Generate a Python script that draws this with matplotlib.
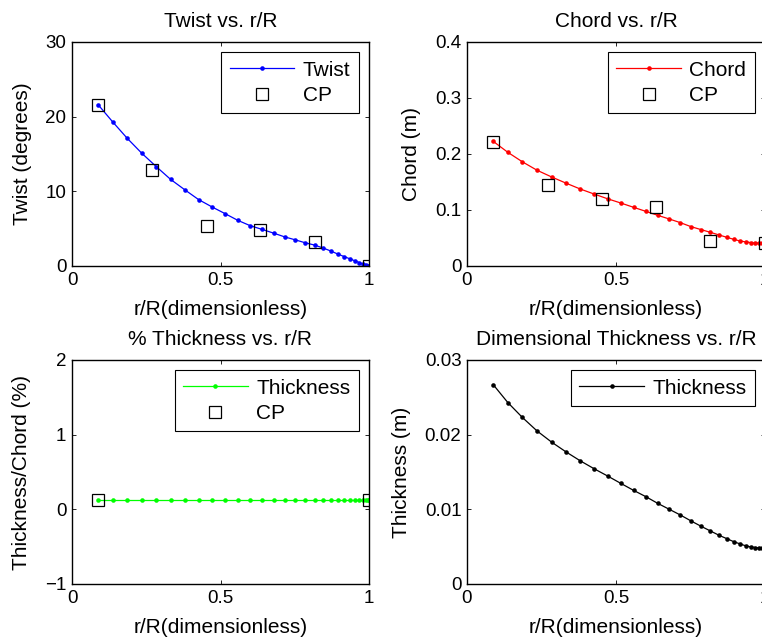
import matplotlib
matplotlib.use("Agg")
import matplotlib.pyplot as plt

plt.rcParams['font.family'] = ['Liberation Sans', 'DejaVu Sans']
plt.rcParams['font.size'] = 13.5
plt.rcParams['axes.unicode_minus'] = True

# r/R stations
r = [0.088, 0.137, 0.186, 0.235, 0.284, 0.332, 0.380, 0.426, 0.472, 0.516,
     0.559, 0.600, 0.640, 0.679, 0.716, 0.752, 0.786, 0.817, 0.846, 0.872,
     0.895, 0.917, 0.937, 0.954, 0.968, 0.981, 0.990, 0.996, 1.0]
twist = [21.6, 19.3, 17.1, 15.1, 13.3, 11.6, 10.2, 8.9, 7.9, 7.0,
         6.1, 5.4, 4.9, 4.4, 3.9, 3.5, 3.1, 2.8, 2.4, 2.0,
         1.6, 1.25, 0.94, 0.67, 0.45, 0.27, 0.13, 0.04, 0.0]
chord = [0.2226, 0.203, 0.186, 0.171, 0.159, 0.148, 0.1375, 0.1286, 0.120, 0.1125,
         0.1048, 0.0976, 0.0905, 0.0839, 0.0774, 0.0702, 0.0649, 0.0601, 0.0554, 0.0512,
         0.0476, 0.0446, 0.0429, 0.0417, 0.0411, 0.0406, 0.0404, 0.0403, 0.0402]
pct_thick = [0.12] * 29
thick = [0.0267, 0.0243, 0.0223, 0.0205, 0.0190, 0.0177, 0.0165, 0.01545, 0.01446, 0.01348,
         0.01254, 0.0117, 0.0108, 0.0100, 0.00924, 0.00844, 0.00772, 0.0071, 0.00652, 0.00607,
         0.00567, 0.00536, 0.00509, 0.00496, 0.00488, 0.00484, 0.00482, 0.00481, 0.0048]

# control points
cp_twist_x = [0.088, 0.27, 0.454, 0.634, 0.818, 1.0]
cp_twist_y = [21.6, 12.9, 5.4, 4.8, 3.2, 0.0]
cp_chord_x = [0.088, 0.271, 0.453, 0.635, 0.814, 1.0]
cp_chord_y = [0.222, 0.1446, 0.119, 0.1048, 0.044, 0.0405]
cp_thick_x = [0.088, 1.0]
cp_thick_y = [0.12, 0.12]

fig = plt.figure(figsize=(7.62, 6.41), dpi=100)
W, H = 762, 641
def pos(x0, y_bottom, w, h):
    return [x0 / W, (H - y_bottom) / H, w / W, h / H]

ax1 = fig.add_axes(pos(72, 266, 297, 224))
ax2 = fig.add_axes(pos(467, 266, 298, 224))
ax3 = fig.add_axes(pos(72, 584, 297, 224))
ax4 = fig.add_axes(pos(467, 584, 298, 224))

LBL = 15

def style(ax):
    ax.tick_params(direction='in', top=True, right=True, length=3, width=0.6, pad=4,
                   labelsize=13.5)
    for s in ax.spines.values():
        s.set_linewidth(1.0)
    ax.set_xlim(0, 1)
    ax.set_xticks([0, 0.5, 1])
    ax.set_xticklabels(['0', '0.5', '1'])
    ax.set_xlabel('r/R(dimensionless)', fontsize=LBL, labelpad=8)

def leg(ax):
    l = ax.legend(loc='upper right', fancybox=False, edgecolor='black', framealpha=1,
                  handlelength=3.1, borderaxespad=0.5, labelspacing=0.3,
                  borderpad=0.4, handletextpad=0.4, fontsize=LBL)
    l.get_frame().set_linewidth(0.8)

cp_kw = dict(linestyle='none', marker='s', markersize=8, markerfacecolor='none',
             markeredgecolor='black', markeredgewidth=0.9, label='CP')
ln_kw = dict(marker='o', markersize=3.3, markeredgewidth=0, linewidth=0.9)

ax1.plot(r, twist, color='blue', label='Twist', **ln_kw)
ax1.plot(cp_twist_x, cp_twist_y, **cp_kw)
ax1.set_ylim(0, 30)
ax1.set_yticks([0, 10, 20, 30])
ax1.set_ylabel('Twist (degrees)', fontsize=LBL, labelpad=10)
ax1.set_title('Twist vs. r/R', fontsize=LBL, pad=11)
style(ax1)
leg(ax1)

ax2.plot(r, chord, color='red', label='Chord', **ln_kw)
ax2.plot(cp_chord_x, cp_chord_y, **cp_kw)
ax2.set_ylim(0, 0.4)
ax2.set_yticks([0, 0.1, 0.2, 0.3, 0.4])
ax2.set_yticklabels(['0', '0.1', '0.2', '0.3', '0.4'])
ax2.set_ylabel('Chord (m)', fontsize=LBL, labelpad=10)
ax2.set_title('Chord vs. r/R', fontsize=LBL, pad=11)
style(ax2)
leg(ax2)

ax3.plot(r, pct_thick, color='#00ff00', label='Thickness', **ln_kw)
ax3.plot(cp_thick_x, cp_thick_y, **cp_kw)
ax3.set_ylim(-1, 2)
ax3.set_yticks([-1, 0, 1, 2])
ax3.set_ylabel('Thickness/Chord (%)', fontsize=LBL, labelpad=10)
ax3.set_title('% Thickness vs. r/R', fontsize=LBL, pad=11)
style(ax3)
leg(ax3)

ax4.plot(r, thick, color='black', label='Thickness', **ln_kw)
ax4.set_ylim(0, 0.03)
ax4.set_yticks([0, 0.01, 0.02, 0.03])
ax4.set_yticklabels(['0', '0.01', '0.02', '0.03'])
ax4.set_ylabel('Thickness (m)', fontsize=LBL, labelpad=10)
ax4.set_title('Dimensional Thickness vs. r/R', fontsize=LBL, pad=11)
style(ax4)
leg(ax4)

fig.savefig('out.png', dpi=100)
